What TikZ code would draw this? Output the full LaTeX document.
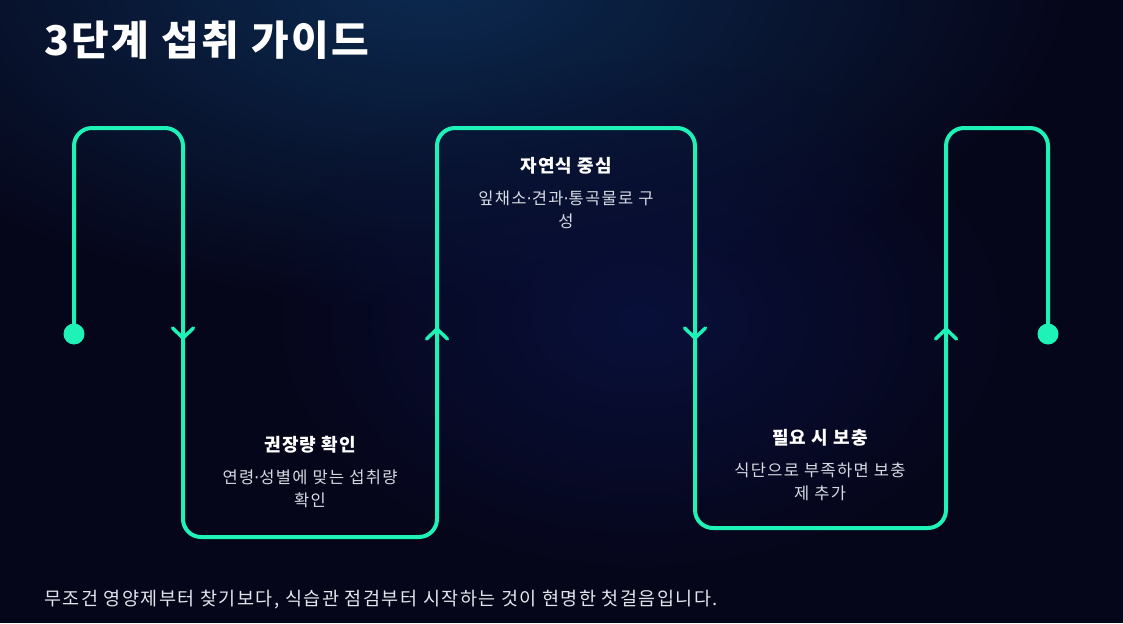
\documentclass[tikz,border=0pt]{standalone}
\usepackage{fontspec}
\setmainfont{Noto Sans CJK KR}
\newfontfamily\dotfont{DejaVu Sans}
\usetikzlibrary{fadings}
\definecolor{bgc}{HTML}{06061A}
\definecolor{glowa}{HTML}{0C2A50}
\definecolor{glowb}{HTML}{09103A}
\definecolor{mint}{HTML}{1EF2B6}
\definecolor{desc}{HTML}{D6DAE2}
\definecolor{foot}{HTML}{E2E5EC}
\newcommand{\mdot}{{\dotfont\mdseries ·}}
\tikzfading[name=softglow, inner color=transparent!0, outer color=transparent!100]
\begin{document}
\begin{tikzpicture}[x=1pt,y=-1pt,
  flow/.style={draw=mint, line width=4pt, rounded corners=18pt, line join=round},
  chev/.style={draw=mint, line width=3.5pt, line cap=round, line join=round},
  enddot/.style={circle, fill=mint, inner sep=0pt, minimum size=21pt},
  steptitle/.style={text=white, inner sep=0pt, font=\bfseries\fontsize{18}{20}\selectfont\addfontfeature{LetterSpace=6}},
  stepdesc/.style={text=desc, inner sep=0pt, align=center, font=\fontsize{16.5}{23}\selectfont\addfontfeature{LetterSpace=8}},
]
\useasboundingbox (0,0) rectangle (1123,623);
\begin{scope}
  \clip (0,0) rectangle (1123,623);
  \fill[bgc] (0,0) rectangle (1123,623);
  \fill[glowa, path fading=softglow] (430,-20) ellipse [x radius=650pt, y radius=330pt];
  \fill[glowb, path fading=softglow] (640,320) ellipse [x radius=380pt, y radius=260pt];
\end{scope}

% title
\node[anchor=west, inner sep=0pt, text=white, font=\bfseries\fontsize{41}{45}\selectfont\addfontfeature{LetterSpace=6}] (title) at (44,40) {3단계 섭취 가이드};

% end dots
\node[enddot] (ds) at (74,334) {};
\node[enddot] (de) at (1048,334) {};

% flow path
\draw[flow] (ds.center) -- (74,128) -- (183,128) -- (183,537) -- (437,537) -- (437,128)
  -- (695,128) -- (695,528) -- (946,528) -- (946,128) -- (1048,128) -- (de.center);

% chevrons
\coordinate (a1) at (183,338);
\coordinate (a2) at (437,329);
\coordinate (a3) at (695,338);
\coordinate (a4) at (946,329);
\draw[chev] ([shift={(-10.5,-10)}]a1) -- (a1) -- ([shift={(10.5,-10)}]a1);
\draw[chev] ([shift={(-10.5,10)}]a2) -- (a2) -- ([shift={(10.5,10)}]a2);
\draw[chev] ([shift={(-10.5,-10)}]a3) -- (a3) -- ([shift={(10.5,-10)}]a3);
\draw[chev] ([shift={(-10.5,10)}]a4) -- (a4) -- ([shift={(10.5,10)}]a4);

% step texts
\node[steptitle] (t1) at (310,445) {권장량 확인};
\node[stepdesc] (d1) at (310,488.5) {연령\mdot 성별에 맞는 섭취량\\확인};

\node[steptitle] (t2) at (566,166) {자연식 중심};
\node[stepdesc] (d2) at (566,209.5) {잎채소\mdot 견과\mdot 통곡물로 구\\성};

\node[steptitle] (t3) at (820,438) {필요 시 보충};
\node[stepdesc] (d3) at (820,481.5) {식단으로 부족하면 보충\\제 추가};

% footer
\node[anchor=west, inner sep=0pt, text=foot, font=\fontsize{18.5}{22}\selectfont\addfontfeature{LetterSpace=8}] (foot) at (44,600) {무조건 영양제부터 찾기보다, 식습관 점검부터 시작하는 것이 현명한 첫걸음입니다.};
\end{tikzpicture}
\end{document}
